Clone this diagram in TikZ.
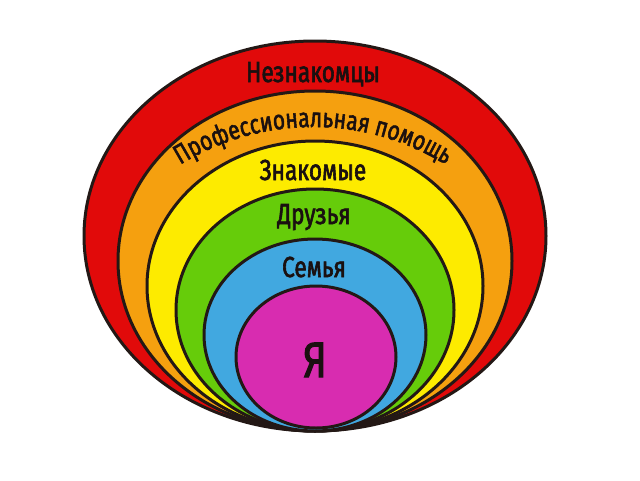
\documentclass[tikz,border=0pt]{standalone}
\usepackage{fontspec}
\setmainfont{Fira Sans}
\newfontfamily\lblfont{Fira Sans}[FakeStretch=0.78, FakeBold=2]
\usetikzlibrary{decorations.text}
\definecolor{cRed}{HTML}{E10A0A}
\definecolor{cOrange}{HTML}{F5A00F}
\definecolor{cYellow}{HTML}{FDEB00}
\definecolor{cGreen}{HTML}{66CC0A}
\definecolor{cBlue}{HTML}{41A8E0}
\definecolor{cMagenta}{HTML}{D82CB0}
\definecolor{cLine}{HTML}{231815}
\definecolor{cText}{HTML}{1A1010}
\begin{document}
\begin{tikzpicture}[x=1pt,y=-1pt,
  ring/.style={draw=cLine, line width=3pt},
  lbl/.style={font=\lblfont\fontsize{29}{29}\selectfont, text=cText, inner sep=0pt, anchor=base}]
\useasboundingbox (0,0) rectangle (640,480);
\fill[white] (0,0) rectangle (640,480);
\filldraw[ring, fill=cRed]     (315,236) ellipse [x radius=231, y radius=195];
\filldraw[ring, fill=cOrange]  (315,261) ellipse [x radius=197, y radius=170];
\filldraw[ring, fill=cYellow]  (315,286) ellipse [x radius=168, y radius=145];
\filldraw[ring, fill=cGreen]   (315,310) ellipse [x radius=139, y radius=121];
\filldraw[ring, fill=cBlue]    (315,335) ellipse [x radius=111, y radius=96];
\filldraw[ring, fill=cMagenta] (316,357) ellipse [x radius=80, y radius=71];
\node[lbl] (strangers) at (313,82) {Незнакомцы};
\coordinate (arcc) at (313,379);
\path[decorate, decoration={text along path, text align=center,
  text color=cText,
  text={|\lblfont\fontsize{27}{27}\selectfont|Профессиональная помощь}}]
  (arcc) ++(-150:252) arc [start angle=-150, end angle=-30, radius=252];
\node[lbl] (acq) at (313,180) {Знакомые};
\node[lbl] (friends) at (314,224) {Друзья};
\node[lbl] (family) at (314,277) {Семья};
\node[lbl, font=\lblfont\fontsize{50}{50}\selectfont] (me) at (315,377) {Я};
\end{tikzpicture}
\end{document}
